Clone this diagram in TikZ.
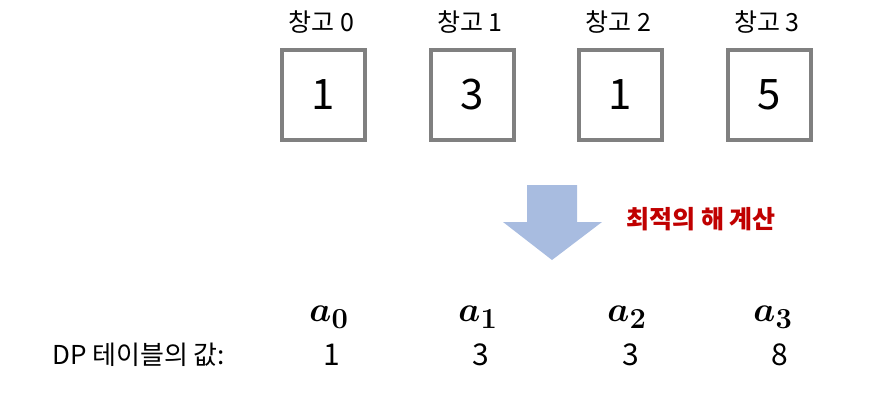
\documentclass[tikz,border=0pt]{standalone}
\usepackage{amsmath, amssymb, bm}
\usepackage[no-math]{fontspec}
\setmainfont{Noto Sans CJK KR}
\usepackage{tikz}
\usetikzlibrary{arrows.meta, positioning, calc}
\usepackage{xcolor}
\definecolor{boxgray}{RGB}{128,128,128}
\definecolor{arrowblue}{RGB}{168,188,224}
\definecolor{calcred}{RGB}{192,0,0}

\begin{document}
\begin{tikzpicture}[x=1pt,y=-1pt,
    store/.style={draw=boxgray,line width=4pt,minimum width=83pt,minimum height=90pt,inner sep=0pt,font=\fontsize{42}{42}\selectfont},
    storelabel/.style={inner sep=0pt,font=\fontsize{25}{25}\selectfont},
    dpval/.style={inner sep=0pt,font=\fontsize{30}{30}\selectfont},
    dpname/.style={inner sep=0pt,scale=1.4,font=\Huge}]
  \useasboundingbox (0,0) rectangle (873,410);
  \node[store] (s0) at (323.5,95) {1};
  \node[store] (s1) at (472,95) {3};
  \node[store] (s2) at (620.5,95) {1};
  \node[store] (s3) at (769,95) {5};
  \node[storelabel] (l0) at (321.5,22) {창고 0};
  \node[storelabel] (l1) at (470,22) {창고 1};
  \node[storelabel] (l2) at (618.5,22) {창고 2};
  \node[storelabel] (l3) at (767,22) {창고 3};
  \fill[arrowblue] (527,185) -- (577,185) -- (577,222) -- (602,222) -- (552,260) -- (503,222) -- (527,222) -- cycle;
  \node[inner sep=0pt,text=calcred,font=\fontsize{25}{25}\selectfont\bfseries] (calc) at (701,219) {최적의 해 계산};
  \node[dpname] (a0) at (329,317) {$\bm{a}_{\bm{0}}$};
  \node[dpname] (a1) at (478,317) {$\bm{a}_{\bm{1}}$};
  \node[dpname] (a2) at (627,317) {$\bm{a}_{\bm{2}}$};
  \node[dpname] (a3) at (773,317) {$\bm{a}_{\bm{3}}$};
  \node[inner sep=0pt,anchor=west,font=\fontsize{26}{26}\selectfont] (dp) at (52,355) {DP 테이블의 값:};
  \node[dpval] (v0) at (332,355) {1};
  \node[dpval] (v1) at (481,355) {3};
  \node[dpval] (v2) at (631,355) {3};
  \node[dpval] (v3) at (780,355) {8};
\end{tikzpicture}
\end{document}
